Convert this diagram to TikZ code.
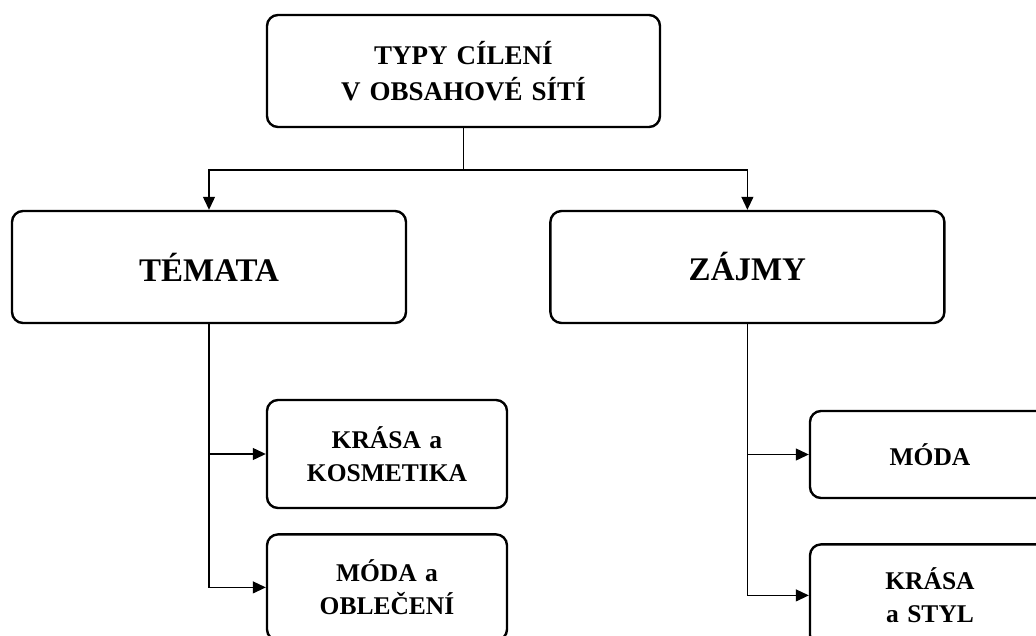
\documentclass[tikz,border=0pt]{standalone}
\usepackage{fontspec}
\setmainfont{Liberation Serif}
\usetikzlibrary{arrows.meta}
\usetikzlibrary{positioning}

\begin{document}
\begin{tikzpicture}[
    box/.style={draw, line width=2.4pt, rounded corners=11pt, align=center,
                inner sep=0pt, text width=#1},
    box/.default=230pt,
    toplabel/.style={font=\fontsize{27pt}{36pt}\selectfont\bfseries},
    biglabel/.style={font=\fontsize{33pt}{38pt}\selectfont\bfseries},
    smalllabel/.style={font=\fontsize{25.5pt}{33pt}\selectfont\bfseries},
    link/.style={line width=1.2pt},
    arrow/.style={link, -{Triangle[length=13pt,width=12pt]}}
  ]
  \fill[white] (0,0) rectangle (1036pt,-636pt);
  \useasboundingbox (0,0) rectangle (1036pt,-636pt);
  \clip (0,0) rectangle (1036pt,-636pt);

  \node (typy) [box=380pt, toplabel, minimum width=393pt, minimum height=112pt]
        at (463.5pt,-71pt) {TYPY CÍLENÍ\\ V OBSAHOVÉ SÍTÍ};
  \node (temata) [box=380pt, biglabel, minimum width=394pt, minimum height=112pt]
        at (209pt,-267pt) {TÉMATA};
  \node (zajmy) [box=380pt, biglabel, minimum width=394pt, minimum height=112pt,
        right=142pt of temata] {ZÁJMY};

  \node (krasakos) [box, smalllabel, minimum width=240pt, minimum height=108pt]
        at (387pt,-454pt) {KRÁSA a\\ KOSMETIKA};
  \node (modaobl) [box, smalllabel, minimum width=240pt, minimum height=106pt,
        below=24pt of krasakos] {MÓDA a\\ OBLEČENÍ};

  \node (moda) [box, smalllabel, minimum width=240pt, minimum height=87pt]
        at (930pt,-454.5pt) {MÓDA};
  \node (krasastyl) [box, smalllabel, minimum width=240pt, minimum height=102pt,
        below=44pt of moda] {KRÁSA\\ a STYL};

  \coordinate (split) at (typy.south |- 0,-170pt);
  \draw[link] (typy.south) -- (split);
  \draw[arrow] (split) -| (temata.north);
  \draw[arrow] (split) -| (zajmy.north);

  \draw[arrow] (temata.south) |- (krasakos.west);
  \draw[arrow] (temata.south) |- (modaobl.west);
  \draw[arrow] (zajmy.south) |- (moda.west);
  \draw[arrow] (zajmy.south) |- (krasastyl.west);
\end{tikzpicture}
\end{document}
